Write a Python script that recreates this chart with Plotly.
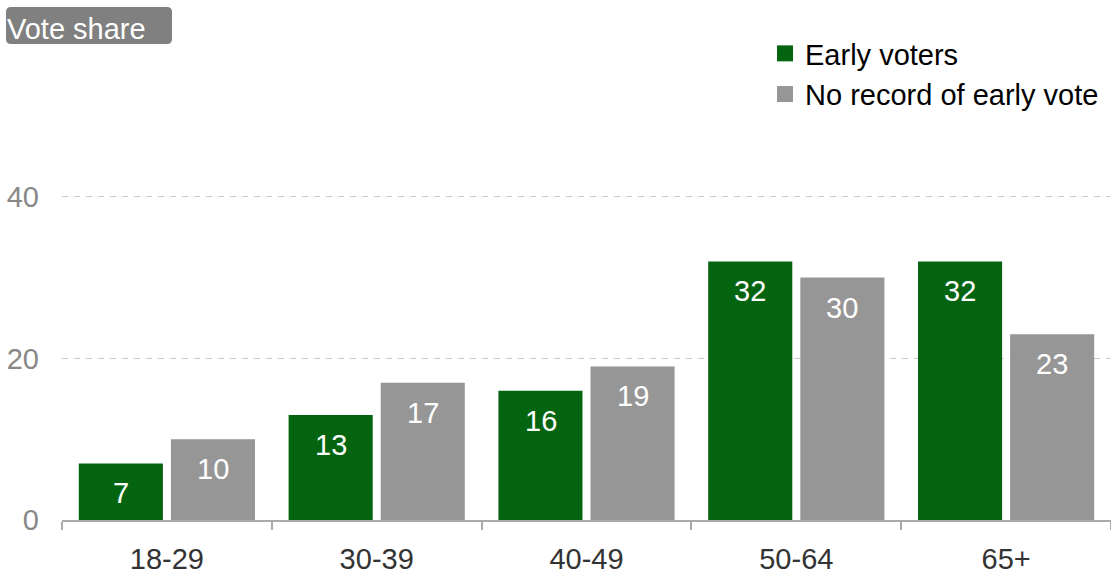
import plotly.graph_objects as go

categories = ["18-29", "30-39", "40-49", "50-64", "65+"]
early_voters = [7, 13, 16, 32, 32]
no_record = [10, 17, 19, 30, 23]
series_names = ["Early voters", "No record of early vote"]
y_ticks = [0, 20, 40]

GREEN = "#04640F"
GRAY = "#969696"
FONT = "Liberation Sans, Arial, sans-serif"

W, H = 1111, 574
L, R, T, B = 62, 0, 116, 54
PW, PH = W - L - R, H - T - B


def px(x):
    return (x - L) / PW


def py(y):
    return (H - B - y) / PH


fig = go.Figure()
for name, vals, col in [(series_names[0], early_voters, GREEN), (series_names[1], no_record, GRAY)]:
    fig.add_trace(go.Bar(x=categories, y=vals, name=name, marker=dict(color=col, line=dict(width=0)),
                         showlegend=False, hoverinfo="skip"))
    fig.add_trace(go.Scatter(x=[None], y=[None], mode="markers", name=name,
                             marker=dict(symbol="square", size=18, color=col)))

annotations = []
for vals, shift in [(early_voters, -46), (no_record, 46)]:
    for c, v in zip(categories, vals):
        annotations.append(dict(x=c, y=v, xref="x", yref="y", text=str(v), showarrow=False,
                                xshift=shift, yshift=-30, font=dict(color="white", size=29, family=FONT)))

annotations.append(dict(xref="paper", yref="paper", x=px(5), y=py(29), xanchor="left", yanchor="middle",
                        text="Vote share", showarrow=False, font=dict(color="white", size=29, family=FONT)))

x0, x1, y0, y1, r = 6, 172, 7, 44, 5
path = (f"M {px(x0+r)} {py(y0)} L {px(x1-r)} {py(y0)} Q {px(x1)} {py(y0)} {px(x1)} {py(y0+r)} "
        f"L {px(x1)} {py(y1-r)} Q {px(x1)} {py(y1)} {px(x1-r)} {py(y1)} "
        f"L {px(x0+r)} {py(y1)} Q {px(x0)} {py(y1)} {px(x0)} {py(y1-r)} "
        f"L {px(x0)} {py(y0+r)} Q {px(x0)} {py(y0)} {px(x0+r)} {py(y0)} Z")

fig.update_layout(
    width=W, height=H,
    margin=dict(l=L, r=R, t=T, b=B, pad=0, autoexpand=False),
    paper_bgcolor="white", plot_bgcolor="white",
    barmode="group", bargap=0.122, bargroupgap=0.087,
    font=dict(family=FONT, size=29, color="#333333"),
    showlegend=True,
    legend=dict(x=px(765), y=py(28), xanchor="left", yanchor="top", font=dict(size=29, color="black"),
                bgcolor="rgba(0,0,0,0)", borderwidth=0),
    annotations=annotations,
    shapes=[dict(type="path", path=path, xref="paper", yref="paper", fillcolor="#808080",
                 line=dict(width=0), layer="above")],
    xaxis=dict(showline=True, linecolor="#aaaaaa", linewidth=1.5, ticks="outside", tickson="boundaries",
               ticklen=8, tickcolor="#aaaaaa", tickwidth=1.5, showgrid=False, zeroline=False, automargin=False,
               tickfont=dict(size=29, color="#333333"), ticklabelstandoff=12, fixedrange=True),
    yaxis=dict(range=[0, 50], tickvals=y_ticks, showgrid=True, gridcolor="#cccccc", griddash="6px,6px",
               gridwidth=1, zeroline=False, showline=False, ticks="", tickfont=dict(size=29, color="#888888"),
               ticklabelstandoff=22, automargin=False, fixedrange=True),
)
fig.write_html("out.html")
